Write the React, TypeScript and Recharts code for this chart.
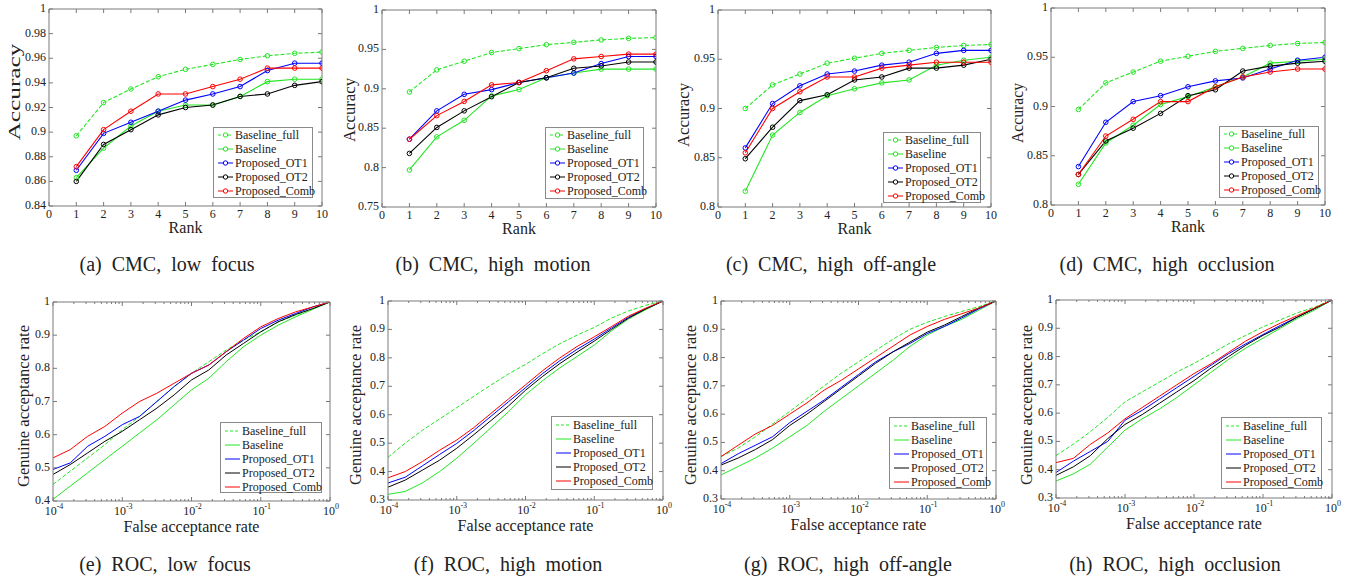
import React from 'react';
import { LineChart, Line, XAxis, YAxis } from 'recharts';

const FONT = 'Liberation Serif, Times New Roman, serif';
const AXIS = '#7a7a7a';
const INK = '#222';

// ---- CMC data (rank 1..10) ----
const ranks = [1, 2, 3, 4, 5, 6, 7, 8, 9, 10];

const cmcLowFocusFull = [0.897, 0.924, 0.935, 0.945, 0.951, 0.955, 0.959, 0.962, 0.964, 0.965];
const cmcLowFocusBase = [0.863, 0.887, 0.905, 0.917, 0.922, 0.922, 0.929, 0.941, 0.943, 0.943];
const cmcLowFocusOT1 = [0.869, 0.899, 0.908, 0.917, 0.926, 0.931, 0.937, 0.95, 0.956, 0.956];
const cmcLowFocusOT2 = [0.86, 0.89, 0.902, 0.914, 0.92, 0.922, 0.929, 0.931, 0.938, 0.941];
const cmcLowFocusComb = [0.872, 0.902, 0.917, 0.931, 0.931, 0.937, 0.943, 0.952, 0.952, 0.952];

const cmcMotionFull = [0.896, 0.924, 0.935, 0.946, 0.951, 0.956, 0.959, 0.962, 0.964, 0.965];
const cmcMotionBase = [0.797, 0.839, 0.86, 0.891, 0.899, 0.914, 0.92, 0.925, 0.925, 0.925];
const cmcMotionOT1 = [0.836, 0.872, 0.893, 0.899, 0.908, 0.914, 0.92, 0.932, 0.941, 0.941];
const cmcMotionOT2 = [0.818, 0.851, 0.872, 0.89, 0.908, 0.914, 0.926, 0.929, 0.934, 0.934];
const cmcMotionComb = [0.836, 0.866, 0.884, 0.905, 0.908, 0.923, 0.938, 0.941, 0.944, 0.944];

const cmcAngleFull = [0.9, 0.924, 0.935, 0.946, 0.951, 0.956, 0.959, 0.962, 0.964, 0.965];
const cmcAngleBase = [0.816, 0.873, 0.896, 0.913, 0.92, 0.926, 0.929, 0.944, 0.949, 0.952];
const cmcAngleOT1 = [0.86, 0.905, 0.923, 0.935, 0.938, 0.944, 0.947, 0.956, 0.959, 0.959];
const cmcAngleOT2 = [0.849, 0.881, 0.908, 0.914, 0.929, 0.932, 0.941, 0.941, 0.944, 0.95];
const cmcAngleComb = [0.855, 0.9, 0.917, 0.932, 0.932, 0.941, 0.944, 0.947, 0.947, 0.947];

const cmcOcclFull = [0.897, 0.924, 0.935, 0.946, 0.951, 0.956, 0.959, 0.962, 0.964, 0.965];
const cmcOcclBase = [0.821, 0.863, 0.881, 0.902, 0.91, 0.92, 0.93, 0.944, 0.946, 0.948];
const cmcOcclOT1 = [0.839, 0.884, 0.905, 0.911, 0.92, 0.926, 0.929, 0.938, 0.947, 0.95];
const cmcOcclOT2 = [0.831, 0.865, 0.878, 0.893, 0.911, 0.917, 0.936, 0.941, 0.944, 0.946];
const cmcOcclComb = [0.831, 0.87, 0.887, 0.905, 0.905, 0.92, 0.93, 0.935, 0.938, 0.938];

// ---- ROC data (log10 of false acceptance rate) ----
const farExponents = [-4, -3.75, -3.5, -3.25, -3, -2.75, -2.5, -2.25, -2, -1.75, -1.5, -1.25, -1, -0.75, -0.5, -0.25, 0];

const rocLowFocusFull = [0.45, 0.49, 0.53, 0.57, 0.615, 0.655, 0.7, 0.745, 0.785, 0.82, 0.855, 0.885, 0.91, 0.94, 0.96, 0.98, 1];
const rocLowFocusBase = [0.405, 0.445, 0.485, 0.525, 0.565, 0.605, 0.645, 0.69, 0.735, 0.77, 0.82, 0.865, 0.9, 0.93, 0.955, 0.978, 1];
const rocLowFocusOT1 = [0.495, 0.515, 0.565, 0.595, 0.63, 0.655, 0.7, 0.745, 0.785, 0.81, 0.85, 0.885, 0.92, 0.945, 0.965, 0.985, 1];
const rocLowFocusOT2 = [0.48, 0.51, 0.545, 0.58, 0.61, 0.645, 0.68, 0.72, 0.765, 0.795, 0.84, 0.875, 0.91, 0.94, 0.962, 0.98, 1];
const rocLowFocusComb = [0.53, 0.555, 0.595, 0.625, 0.665, 0.7, 0.725, 0.755, 0.785, 0.81, 0.85, 0.89, 0.925, 0.95, 0.97, 0.985, 1];

const rocMotionFull = [0.45, 0.5, 0.545, 0.585, 0.625, 0.665, 0.705, 0.743, 0.777, 0.815, 0.85, 0.88, 0.907, 0.94, 0.965, 0.985, 1];
const rocMotionBase = [0.32, 0.33, 0.36, 0.4, 0.447, 0.5, 0.555, 0.61, 0.67, 0.72, 0.765, 0.805, 0.845, 0.895, 0.937, 0.97, 1];
const rocMotionOT1 = [0.36, 0.38, 0.42, 0.46, 0.499, 0.545, 0.595, 0.645, 0.695, 0.745, 0.79, 0.83, 0.866, 0.905, 0.943, 0.973, 1];
const rocMotionOT2 = [0.345, 0.37, 0.405, 0.44, 0.482, 0.53, 0.58, 0.63, 0.686, 0.735, 0.78, 0.82, 0.859, 0.9, 0.94, 0.972, 1];
const rocMotionComb = [0.378, 0.4, 0.435, 0.475, 0.511, 0.555, 0.605, 0.655, 0.705, 0.755, 0.8, 0.84, 0.874, 0.91, 0.947, 0.975, 1];

const rocAngleFull = [0.45, 0.48, 0.52, 0.565, 0.61, 0.655, 0.7, 0.745, 0.785, 0.825, 0.865, 0.9, 0.925, 0.945, 0.963, 0.98, 1];
const rocAngleBase = [0.385, 0.415, 0.445, 0.48, 0.52, 0.56, 0.61, 0.655, 0.7, 0.745, 0.79, 0.84, 0.88, 0.91, 0.935, 0.968, 1];
const rocAngleOT1 = [0.425, 0.46, 0.49, 0.52, 0.57, 0.61, 0.65, 0.695, 0.74, 0.785, 0.82, 0.85, 0.885, 0.91, 0.94, 0.972, 1];
const rocAngleOT2 = [0.42, 0.445, 0.475, 0.51, 0.56, 0.6, 0.645, 0.69, 0.735, 0.78, 0.82, 0.855, 0.89, 0.915, 0.945, 0.975, 1];
const rocAngleComb = [0.45, 0.49, 0.53, 0.56, 0.6, 0.64, 0.685, 0.72, 0.76, 0.8, 0.84, 0.88, 0.91, 0.935, 0.955, 0.975, 1];

const rocOcclFull = [0.45, 0.49, 0.535, 0.585, 0.64, 0.675, 0.71, 0.745, 0.776, 0.81, 0.845, 0.875, 0.905, 0.93, 0.955, 0.975, 1];
const rocOcclBase = [0.36, 0.385, 0.42, 0.48, 0.54, 0.58, 0.615, 0.655, 0.7, 0.745, 0.79, 0.83, 0.865, 0.9, 0.935, 0.965, 1];
const rocOcclOT1 = [0.39, 0.43, 0.465, 0.5, 0.575, 0.61, 0.65, 0.69, 0.73, 0.77, 0.81, 0.845, 0.878, 0.91, 0.94, 0.97, 1];
const rocOcclOT2 = [0.38, 0.41, 0.45, 0.51, 0.56, 0.595, 0.635, 0.675, 0.715, 0.76, 0.8, 0.84, 0.875, 0.905, 0.94, 0.97, 1];
const rocOcclComb = [0.425, 0.44, 0.49, 0.53, 0.58, 0.62, 0.66, 0.7, 0.74, 0.775, 0.815, 0.855, 0.888, 0.918, 0.945, 0.972, 1];

// ---- ticks ----
const rankTicks = [0, 1, 2, 3, 4, 5, 6, 7, 8, 9, 10];
const accTicksA = [0.84, 0.86, 0.88, 0.9, 0.92, 0.94, 0.96, 0.98, 1];
const accTicksB = [0.75, 0.8, 0.85, 0.9, 0.95, 1];
const accTicksCD = [0.8, 0.85, 0.9, 0.95, 1];
const garTicksE = [0.4, 0.5, 0.6, 0.7, 0.8, 0.9, 1];
const garTicksFGH = [0.3, 0.4, 0.5, 0.6, 0.7, 0.8, 0.9, 1];
const farMajor = [0.0001, 0.001, 0.01, 0.1, 1];
const farTicks = [...farMajor];
[0.0001, 0.001, 0.01, 0.1].forEach((d) => {
  for (let k = 2; k <= 9; k++) farTicks.push(k * d);
});
farTicks.sort((a, b) => a - b);

const seriesKeys = ['full', 'base', 'ot1', 'ot2', 'comb'];
const seriesNames = ['Baseline_full', 'Baseline', 'Proposed_OT1', 'Proposed_OT2', 'Proposed_Comb'];
const seriesColors = ['#22e622', '#22e622', '#0000ff', '#000000', '#ff0000'];

type Rows = Record<string, number>[];

function cmcRows(s: number[][]): Rows {
  return ranks.map((r, i) => {
    const row: Record<string, number> = { x: r };
    seriesKeys.forEach((k, j) => (row[k] = s[j][i]));
    return row;
  });
}

function rocRows(s: number[][]): Rows {
  return farExponents.map((e, i) => {
    const row: Record<string, number> = { x: Math.pow(10, e) };
    seriesKeys.forEach((k, j) => (row[k] = s[j][i]));
    return row;
  });
}

interface PanelDef {
  kind: 'cmc' | 'roc';
  rows: Rows;
  box: [number, number, number, number];
  yDomain: [number, number];
  yTicks: number[];
  legend: [number, number, number, number];
  caption: string;
  capX: number;
  yLen: number;
  yCy: number;
  yDx: number;
}

const panels: PanelDef[] = [
  {
    kind: 'cmc', rows: cmcRows([cmcLowFocusFull, cmcLowFocusBase, cmcLowFocusOT1, cmcLowFocusOT2, cmcLowFocusComb]),
    box: [49, 9, 322, 206], yDomain: [0.84, 1], yTicks: accTicksA, legend: [213, 127, 312, 197],
    caption: '(a) CMC, low focus', capX: 167, yLen: 97, yCy: 92, yDx: 35,
  },
  {
    kind: 'cmc', rows: cmcRows([cmcMotionFull, cmcMotionBase, cmcMotionOT1, cmcMotionOT2, cmcMotionComb]),
    box: [382, 10, 656, 207], yDomain: [0.75, 1], yTicks: accTicksB, legend: [545, 127, 643, 198],
    caption: '(b) CMC, high motion', capX: 493, yLen: 64, yCy: 110, yDx: 33,
  },
  {
    kind: 'cmc', rows: cmcRows([cmcAngleFull, cmcAngleBase, cmcAngleOT1, cmcAngleOT2, cmcAngleComb]),
    box: [718, 10, 991, 207], yDomain: [0.8, 1], yTicks: accTicksCD, legend: [883, 132, 980, 202],
    caption: '(c) CMC, high off-angle', capX: 831, yLen: 64, yCy: 115, yDx: 35,
  },
  {
    kind: 'cmc', rows: cmcRows([cmcOcclFull, cmcOcclBase, cmcOcclOT1, cmcOcclOT2, cmcOcclComb]),
    box: [1051, 8, 1325, 205], yDomain: [0.8, 1], yTicks: accTicksCD, legend: [1219, 126, 1318, 197],
    caption: '(d) CMC, high occlusion', capX: 1167, yLen: 60, yCy: 113, yDx: 34,
  },
  {
    kind: 'roc', rows: rocRows([rocLowFocusFull, rocLowFocusBase, rocLowFocusOT1, rocLowFocusOT2, rocLowFocusComb]),
    box: [53, 302, 330, 501], yDomain: [0.4, 1], yTicks: garTicksE, legend: [220, 422, 321, 492],
    caption: '(e) ROC, low focus', capX: 165, yLen: 162, yCy: 406, yDx: 30,
  },
  {
    kind: 'roc', rows: rocRows([rocMotionFull, rocMotionBase, rocMotionOT1, rocMotionOT2, rocMotionComb]),
    box: [388, 301, 663, 500], yDomain: [0.3, 1], yTicks: garTicksFGH, legend: [551, 416, 652, 489],
    caption: '(f) ROC, high motion', capX: 508, yLen: 160, yCy: 405, yDx: 33,
  },
  {
    kind: 'roc', rows: rocRows([rocAngleFull, rocAngleBase, rocAngleOT1, rocAngleOT2, rocAngleComb]),
    box: [721, 301, 996, 499], yDomain: [0.3, 1], yTicks: garTicksFGH, legend: [889, 417, 986, 488],
    caption: '(g) ROC, high off-angle', capX: 848, yLen: 160, yCy: 405, yDx: 31,
  },
  {
    kind: 'roc', rows: rocRows([rocOcclFull, rocOcclBase, rocOcclOT1, rocOcclOT2, rocOcclComb]),
    box: [1056, 300, 1332, 498], yDomain: [0.3, 1], yTicks: garTicksFGH, legend: [1221, 417, 1321, 488],
    caption: '(h) ROC, high occlusion', capX: 1175, yLen: 160, yCy: 405, yDx: 30,
  },
];

const isMajor = (v: number) => {
  const l = Math.log10(v);
  return Math.abs(l - Math.round(l)) < 1e-6;
};

const textStyle = { fontFamily: FONT };

function xTick(side: 'bottom' | 'top', log: boolean) {
  return (props: any) => {
    const { x, y, payload } = props;
    const v = payload.value as number;
    const major = !log || isMajor(v);
    const len = major ? 4 : 2;
    const dir = side === 'bottom' ? -1 : 1;
    let label: React.ReactNode = null;
    if (side === 'bottom' && major) {
      label = log ? (
        <text x={x + 1} y={y + 14} textAnchor="middle" fontSize={12} fill={INK} style={textStyle}>
          10
          <tspan dy={-6} fontSize={8}>{String(Math.round(Math.log10(v)))}</tspan>
        </text>
      ) : (
        <text x={x} y={y + 12} textAnchor="middle" fontSize={12} fill={INK} style={textStyle}>
          {String(v)}
        </text>
      );
    }
    return (
      <g>
        <line x1={x} x2={x} y1={y} y2={y + dir * len} stroke={AXIS} strokeWidth={1} />
        {label}
      </g>
    );
  };
}

function yTick(side: 'left' | 'right') {
  return (props: any) => {
    const { x, y, payload } = props;
    const dir = side === 'left' ? 1 : -1;
    return (
      <g>
        <line x1={x} x2={x + dir * 4} y1={y} y2={y} stroke={AXIS} strokeWidth={1} />
        {side === 'left' && (
          <text x={x - 3} y={y + 3} textAnchor="end" fontSize={12} fill={INK} style={textStyle}>
            {String(payload.value)}
          </text>
        )}
      </g>
    );
  };
}

function Panel({ p }: { p: PanelDef }) {
  const [x0, y0, x1, y1] = p.box;
  const pw = x1 - x0;
  const ph = y1 - y0;
  const log = p.kind === 'roc';
  const xDomain: [number, number] = log ? [0.0001, 1] : [0, 10];
  const xTicks = log ? farTicks : rankTicks;
  return (
    <div style={{ position: 'absolute', left: x0 - 50, top: y0 - 10 }}>
      <LineChart
        width={pw + 60}
        height={ph + 50}
        data={p.rows}
        margin={{ top: 9, right: 9, bottom: 0, left: 0 }}
      >
        <XAxis
          xAxisId="b"
          dataKey="x"
          type="number"
          scale={log ? 'log' : 'linear'}
          domain={xDomain}
          ticks={xTicks}
          interval={0}
          allowDataOverflow
          height={40}
          tickLine={false}
          tickSize={0}
          tickMargin={0}
          axisLine={{ stroke: AXIS }}
          tick={xTick('bottom', log)}
        />
        <XAxis
          xAxisId="t"
          orientation="top"
          dataKey="x"
          type="number"
          scale={log ? 'log' : 'linear'}
          domain={xDomain}
          ticks={xTicks}
          interval={0}
          allowDataOverflow
          height={1}
          tickLine={false}
          tickSize={0}
          tickMargin={0}
          axisLine={{ stroke: AXIS }}
          tick={xTick('top', log)}
        />
        <YAxis
          yAxisId="l"
          type="number"
          domain={p.yDomain}
          ticks={p.yTicks}
          interval={0}
          allowDataOverflow
          width={50}
          tickLine={false}
          tickSize={0}
          tickMargin={0}
          axisLine={{ stroke: AXIS }}
          tick={yTick('left')}
        />
        <YAxis
          yAxisId="r"
          orientation="right"
          type="number"
          domain={p.yDomain}
          ticks={p.yTicks}
          interval={0}
          allowDataOverflow
          width={1}
          tickLine={false}
          tickSize={0}
          tickMargin={0}
          axisLine={{ stroke: AXIS }}
          tick={yTick('right')}
        />
        {seriesKeys.map((k, i) => (
          <Line
            key={k}
            xAxisId="b"
            yAxisId="l"
            dataKey={k}
            type="linear"
            stroke={seriesColors[i]}
            strokeWidth={log ? 1 : 1.1}
            strokeDasharray={i === 0 ? '4 2' : undefined}
            dot={
              log
                ? false
                : (d: any) => (
                    <circle
                      key={`${k}-${d.index}`}
                      cx={d.cx}
                      cy={d.cy}
                      r={2.3}
                      fill="none"
                      stroke={seriesColors[i]}
                      strokeWidth={1}
                    />
                  )
            }
            activeDot={false}
            isAnimationActive={false}
          />
        ))}
      </LineChart>
    </div>
  );
}

function LegendBox({ p }: { p: PanelDef }) {
  const [lx0, ly0, lx1, ly1] = p.legend;
  const cmc = p.kind === 'cmc';
  const first = ly0 + (cmc ? 8 : 9);
  return (
    <g>
      <rect x={lx0 + 0.5} y={ly0 + 0.5} width={lx1 - lx0} height={ly1 - ly0} fill="#fff" stroke="#8a8a8a" strokeWidth={1} />
      {seriesNames.map((name, i) => {
        const cy = first + i * 14;
        return (
          <g key={name}>
            <line
              x1={lx0 + 5}
              x2={lx0 + 20}
              y1={cy}
              y2={cy}
              stroke={seriesColors[i]}
              strokeWidth={1}
              strokeDasharray={i === 0 ? '3 2' : undefined}
            />
            {cmc && <circle cx={lx0 + 12.5} cy={cy} r={2.2} fill="#fff" stroke={seriesColors[i]} strokeWidth={1} />}
            <text x={lx0 + 22} y={cy + 4} fontSize={12} fill={INK} style={textStyle}>
              {name}
            </text>
          </g>
        );
      })}
    </g>
  );
}

function Labels({ p }: { p: PanelDef }) {
  const [x0, , x1, y1] = p.box;
  const cmc = p.kind === 'cmc';
  const lx = x0 - p.yDx;
  const capY = cmc ? 271 : 571;
  return (
    <g fill={INK} style={textStyle}>
      <text x={(x0 + x1) / 2} y={y1 + (cmc ? 27 : 31)} textAnchor="middle" fontSize={16} style={textStyle}>
        {cmc ? 'Rank' : 'False acceptance rate'}
      </text>
      <text
        x={lx}
        y={p.yCy}
        transform={`rotate(-90 ${lx} ${p.yCy})`}
        textAnchor="middle"
        dominantBaseline="central"
        fontSize={16}
        textLength={p.yLen}
        lengthAdjust="spacingAndGlyphs"
        style={textStyle}
      >
        {cmc ? 'Accuracy' : 'Genuine acceptance rate'}
      </text>
      <text x={p.capX} y={capY} textAnchor="middle" fontSize={20} style={{ ...textStyle, wordSpacing: 5 }}>
        {p.caption}
      </text>
    </g>
  );
}

export default function App() {
  return (
    <div style={{ position: 'absolute', left: 0, top: 0, width: 1363, height: 581, background: '#fff', fontFamily: FONT }}>
      {panels.map((p, i) => (
        <Panel key={i} p={p} />
      ))}
      <svg width={1363} height={581} style={{ position: 'absolute', left: 0, top: 0, pointerEvents: 'none', fontFamily: FONT }}>
        {panels.map((p, i) => (
          <g key={i}>
            <LegendBox p={p} />
            <Labels p={p} />
          </g>
        ))}
      </svg>
    </div>
  );
}
